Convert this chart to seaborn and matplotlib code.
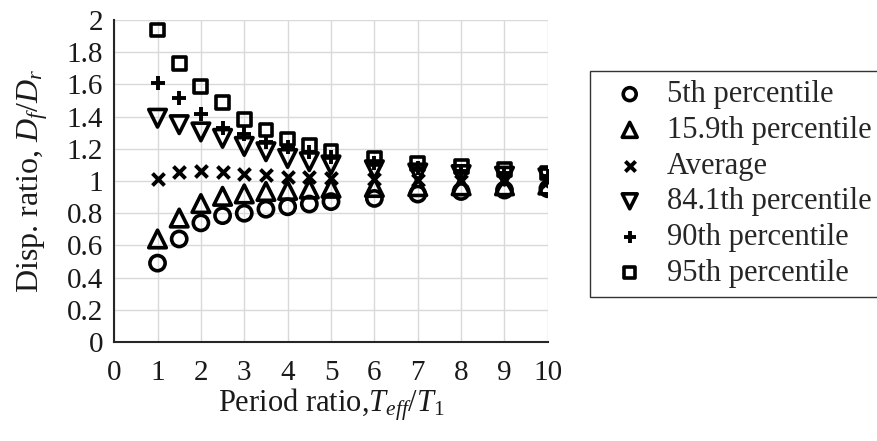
import numpy as np
import pandas as pd
import matplotlib
matplotlib.use("Agg")
import matplotlib.pyplot as plt
import seaborn as sns

# ---- data ----
period_ratio = [1, 1.5, 2, 2.5, 3, 3.5, 4, 4.5, 5, 6, 7, 8, 9, 10]
p05 = [0.49, 0.64, 0.74, 0.785, 0.80, 0.825, 0.84, 0.857, 0.872, 0.892, 0.919, 0.935, 0.944, 0.952]
p159 = [0.64, 0.77, 0.86, 0.905, 0.92, 0.935, 0.942, 0.95, 0.955, 0.96, 0.965, 0.97, 0.97, 0.975]
avg = [1.01, 1.058, 1.064, 1.054, 1.043, 1.037, 1.027, 1.023, 1.017, 1.01, 1.005, 1.0, 1.0, 1.0]
p841 = [1.39, 1.35, 1.305, 1.265, 1.215, 1.182, 1.14, 1.12, 1.10, 1.07, 1.05, 1.04, 1.03, 1.02]
p90 = [1.61, 1.517, 1.416, 1.33, 1.29, 1.244, 1.213, 1.182, 1.15, 1.11, 1.08, 1.06, 1.05, 1.03]
p95 = [1.938, 1.731, 1.586, 1.489, 1.383, 1.317, 1.261, 1.22, 1.182, 1.14, 1.11, 1.09, 1.07, 1.05]
series_names = ["5th percentile", "15.9th percentile", "Average",
                "84.1th percentile", "90th percentile", "95th percentile"]
y_ticks = [0, 0.2, 0.4, 0.6, 0.8, 1, 1.2, 1.4, 1.6, 1.8, 2]
y_tick_labels = ["0", "0.2", "0.4", "0.6", "0.8", "1", "1.2", "1.4", "1.6", "1.8", "2"]
x_ticks = list(range(0, 11))

series_values = [p05, p159, avg, p841, p90, p95]
df = pd.concat([pd.DataFrame({"x": period_ratio, "y": v, "series": n})
                for n, v in zip(series_names, series_values)], ignore_index=True)

sns.set_style("white")
plt.rcParams["font.family"] = ["Liberation Serif", "DejaVu Serif"]
plt.rcParams["mathtext.fontset"] = "custom"
plt.rcParams["mathtext.rm"] = "Liberation Serif"
plt.rcParams["mathtext.it"] = "Liberation Serif:italic"
plt.rcParams["mathtext.default"] = "it"

fig = plt.figure(figsize=(8.78, 4.41), dpi=100)
ax = fig.add_axes([0.13, 0.2245, 0.494, 0.730])

styles = {
    "5th percentile": dict(marker="o", s=120, filled=True),
    "15.9th percentile": dict(marker="^", s=160, filled=True),
    "Average": dict(marker="x", s=75, filled=False),
    "84.1th percentile": dict(marker="v", s=160, filled=True),
    "90th percentile": dict(marker="+", s=115, filled=False),
    "95th percentile": dict(marker="s", s=85, filled=True),
}

for name in series_names:
    st = styles[name]
    sub = df[df["series"] == name]
    if st["filled"]:
        sns.scatterplot(data=sub, x="x", y="y", ax=ax, marker=st["marker"], s=st["s"],
                        facecolors="none", edgecolor="black", linewidth=2.6,
                        label=name, zorder=3)
    else:
        sns.scatterplot(data=sub, x="x", y="y", ax=ax, marker=st["marker"], s=st["s"],
                        color="black", linewidth=2.8, label=name, zorder=3)

ax.set_xlim(0, 10)
ax.set_ylim(0, 2)
ax.set_xticks(x_ticks)
ax.set_xticklabels([str(t) for t in x_ticks])
ax.set_yticks(y_ticks)
ax.set_yticklabels(y_tick_labels)
ax.grid(True, color="#d9d9d9", linewidth=1.0)
ax.set_axisbelow(True)
for side in ["top", "right"]:
    ax.spines[side].set_visible(False)
for side in ["left", "bottom"]:
    ax.spines[side].set_color("#262626")
    ax.spines[side].set_linewidth(1.5)
ax.tick_params(direction="in", length=5, width=1.5, color="#262626",
               labelsize=21, labelcolor="#1a1a1a")
ax.tick_params(axis="x", pad=13)
ax.tick_params(axis="y", pad=8)

ax.set_xlabel(r"Period ratio,$T_{eff}/T_{1}$", fontsize=22, color="#1a1a1a", labelpad=0)
ax.set_ylabel(r"Disp. ratio, $D_f/D_r$", fontsize=23, color="#1a1a1a", labelpad=12)

leg = ax.legend(loc="upper left", bbox_to_anchor=(590 / 878, 1 - 71 / 441),
                bbox_transform=fig.transFigure, fontsize=22, frameon=True,
                fancybox=False, edgecolor="black", borderaxespad=0,
                handletextpad=0.22, labelspacing=0.22, borderpad=0.3,
                markerscale=0.85, handlelength=2.0)
leg.get_frame().set_linewidth(1.0)

fig.savefig("out.png", dpi=100)
